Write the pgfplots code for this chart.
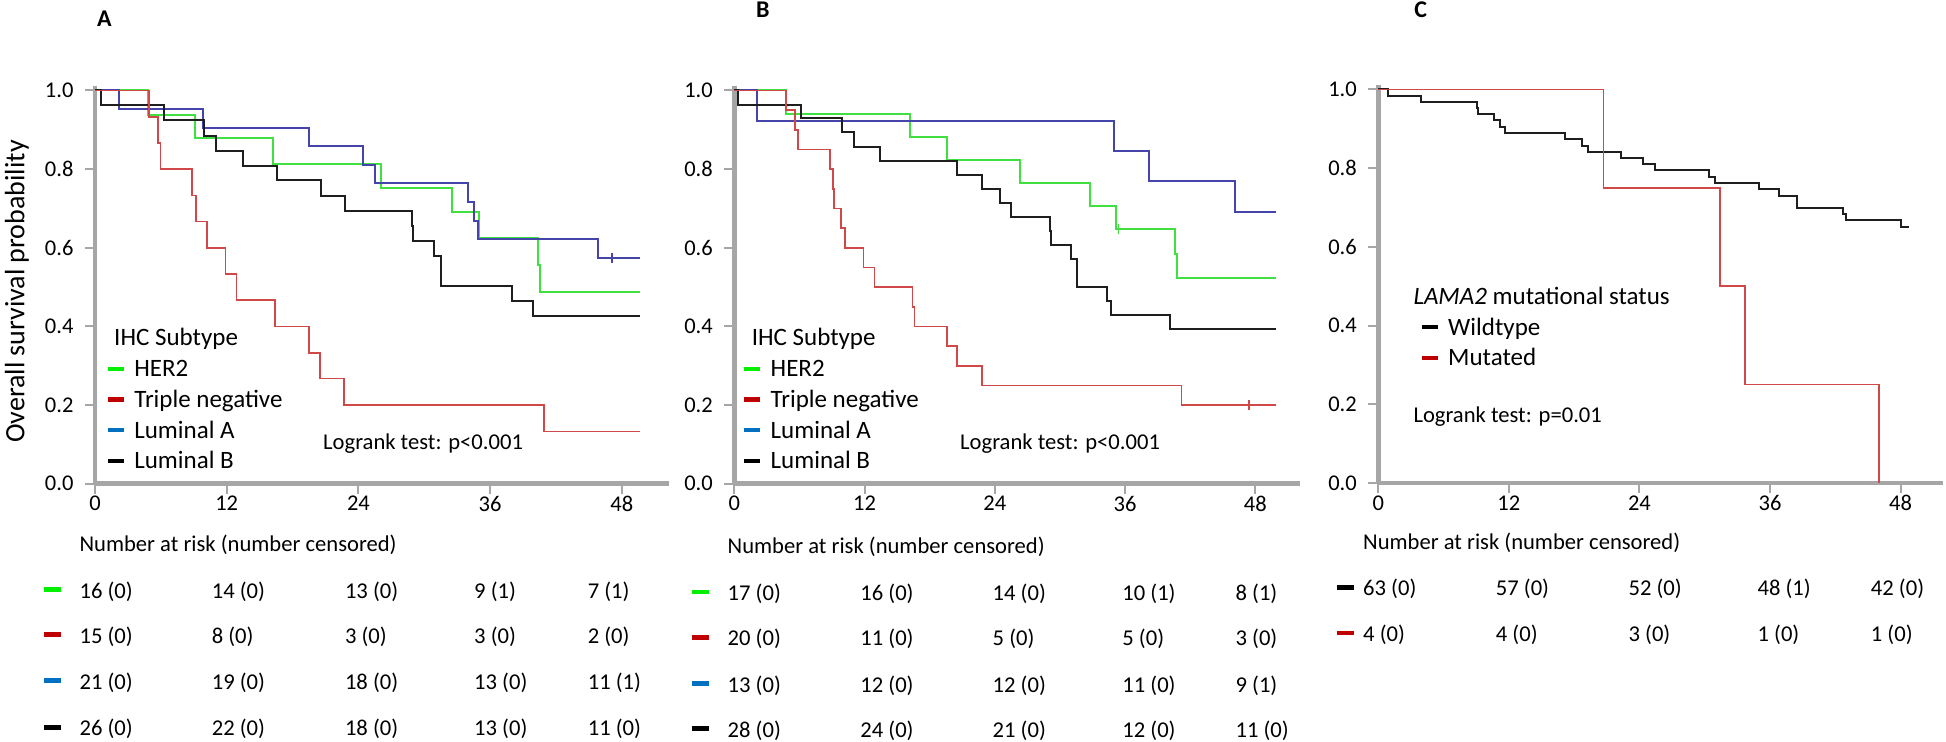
\documentclass[border=0pt]{standalone}
\usepackage{pgfplots}
\pgfplotsset{compat=1.18}
\usepackage{fontspec}
\setmainfont{Carlito}

\definecolor{axisgrey}{HTML}{A6A6A6}
\definecolor{kmgreen}{HTML}{3FE03F}
\definecolor{kmred}{HTML}{D04848}
\definecolor{kmblue}{HTML}{4444AA}
\definecolor{kmblack}{HTML}{1E1E1E}
\definecolor{lggreen}{HTML}{00F000}
\definecolor{lgred}{HTML}{C00000}
\definecolor{lgblue}{HTML}{0070C0}

\newcommand\txt{\fontsize{22.6bp}{26bp}\selectfont}
\newcommand\lgd{\fontsize{25bp}{29bp}\selectfont}
\newcommand\tck{\fontsize{22.5bp}{26bp}\selectfont}
\newcommand\ylab{\fontsize{28bp}{32bp}\selectfont}

% one row of a number-at-risk table; columns in \cA..\cE, dash at \dx
\newcommand\riskrow[7]{%
  \node[anchor=west,inner sep=0pt] at (\dx,#1+2) {\textcolor{#2}{\rule{17bp}{4.5bp}}};
  \node[anchor=west,inner sep=0pt,font=\txt] at (\cA,#1) {#3};
  \node[anchor=west,inner sep=0pt,font=\txt] at (\cB,#1) {#4};
  \node[anchor=west,inner sep=0pt,font=\txt] at (\cC,#1) {#5};
  \node[anchor=west,inner sep=0pt,font=\txt] at (\cD,#1) {#6};
  \node[anchor=west,inner sep=0pt,font=\txt] at (\cE,#1) {#7};}

\pgfplotsset{
  kmaxis/.style={
    scale only axis, height=397.2bp, anchor=south west,
    xmin=0, ymin=0, ymax=1.01,
    axis lines=left,
    axis line style={draw=axisgrey, line width=4.5bp, -},
    xtick={0,12,24,36,48}, ytick={0,0.2,0.4,0.6,0.8,1.0},
    yticklabel style={xshift=-8bp, /pgf/number format/.cd, fixed, fixed zerofill, precision=1},
    xticklabel style={yshift=1bp},
    tick style={draw=axisgrey, line width=2bp},
    major tick length=10bp, tick align=outside,
    ticklabel style={font=\tck},
    /pgf/number format/assume math mode=true,
    clip=false,
    legend cell align=left,
    legend image code/.code={\draw[line width=4.5bp,##1] (0bp,0bp) -- (16bp,0bp);},
    legend style={draw=none, fill=none, inner sep=0pt, font=\lgd,
      row sep=7.9bp, cells={anchor=west},
      /tikz/every odd column/.append style={column sep=6bp}},
  },
  km/.style={const plot, line width=2bp, forget plot},
  cens/.style={only marks, mark=|, mark size=5bp, line width=1.5bp, forget plot},
}

\begin{document}
\begin{tikzpicture}[x=1bp,y=1bp]
\path[use as bounding box] (0,0) rectangle (1946,742);

\node[font=\fontsize{24bp}{28bp}\selectfont\bfseries] at (104.5,723) {A};
\node[font=\fontsize{24bp}{28bp}\selectfont\bfseries] at (762.8,732) {B};
\node[font=\fontsize{24bp}{28bp}\selectfont\bfseries] at (1420.7,732) {C};
\node[font=\ylab, rotate=90] at (17,450.5) {Overall survival probability};

% ---------------- A
\begin{axis}[kmaxis, at={(95bp,258.3bp)}, width=574bp, xmax=52.3,
  legend style={at={(0.0186,0.316)}, anchor=north west}]
\addplot[km, kmgreen] coordinates {(0,1) (4.87,0.937) (9.1,0.878) (16.2,0.813) (26.1,0.751) (32.5,0.690) (35.0,0.626) (40.4,0.556) (40.5,0.488) (49.7,0.488)};
\addplot[km, kmblue] coordinates {(0,1) (2.19,0.953) (9.86,0.905) (19.5,0.858) (24.4,0.811) (25.5,0.764) (34.0,0.715) (34.5,0.669) (34.9,0.622) (45.8,0.575) (49.7,0.575)};
\addplot[cens, kmblue] coordinates {(47.1,0.575)};
\addplot[km, kmblack] coordinates {(0,1) (0.53,0.962) (6.27,0.924) (9.97,0.885) (10.99,0.847) (13.5,0.809) (16.6,0.771) (20.6,0.732) (22.8,0.694) (28.9,0.655) (29.0,0.618) (30.9,0.580) (31.5,0.503) (38.0,0.464) (39.9,0.427) (49.7,0.427)};
\addplot[km, kmred, line width=1.6bp] coordinates {(0,1) (4.94,0.933) (5.74,0.867) (5.97,0.8) (8.83,0.733) (9.18,0.667) (10.2,0.6) (11.9,0.533) (12.9,0.467) (16.4,0.4) (19.5,0.333) (20.5,0.267) (22.7,0.2) (40.9,0.133) (49.7,0.133)};
\addlegendimage{lggreen}\addlegendentry{HER2}
\addlegendimage{lgred}\addlegendentry{Triple negative}
\addlegendimage{lgblue}\addlegendentry{Luminal A}
\addlegendimage{black}\addlegendentry{Luminal B}
\end{axis}
\node[anchor=west, font=\lgd, inner sep=0pt] at (114,403) {IHC Subtype};
\node[anchor=west, font=\txt, inner sep=0pt] at (323,298.5) {Logrank test: p<0.001};

% ---------------- B
\begin{axis}[kmaxis, at={(734.3bp,258.3bp)}, width=565.5bp, xmax=52.1,
  legend style={at={(0.0136,0.316)}, anchor=north west}]
\addplot[km, kmgreen] coordinates {(0,1) (4.74,0.941) (16.2,0.882) (19.6,0.824) (26.3,0.765) (32.8,0.706) (35.2,0.647) (40.6,0.583) (40.8,0.522) (49.9,0.522)};
\addplot[cens, kmgreen] coordinates {(35.4,0.647)};
\addplot[km, kmblue] coordinates {(0,1) (2.07,0.923) (35.0,0.846) (38.2,0.769) (46.1,0.692) (49.9,0.692)};
\addplot[km, kmblack] coordinates {(0,1) (0.35,0.964) (6.16,0.929) (9.9,0.893) (11.04,0.857) (13.4,0.821) (20.5,0.786) (22.8,0.75) (24.5,0.714) (25.5,0.679) (29.1,0.643) (29.2,0.607) (31.0,0.571) (31.6,0.5) (34.3,0.464) (34.7,0.429) (40.1,0.393) (49.9,0.393)};
\addplot[km, kmred, line width=1.6bp] coordinates {(0,1) (4.74,0.95) (5.58,0.9) (5.85,0.85) (8.79,0.8) (9.1,0.75) (9.17,0.7) (9.82,0.65) (10.2,0.6) (11.9,0.55) (12.9,0.5) (16.4,0.45) (16.6,0.4) (19.6,0.35) (20.5,0.3) (22.8,0.25) (41.2,0.2) (49.9,0.2)};
\addplot[cens, kmred] coordinates {(47.4,0.2)};
\addlegendimage{lggreen}\addlegendentry{HER2}
\addlegendimage{lgred}\addlegendentry{Triple negative}
\addlegendimage{lgblue}\addlegendentry{Luminal A}
\addlegendimage{black}\addlegendentry{Luminal B}
\end{axis}
\node[anchor=west, font=\lgd, inner sep=0pt] at (751.6,403) {IHC Subtype};
\node[anchor=west, font=\txt, inner sep=0pt] at (960,298) {Logrank test: p<0.001};

% ---------------- C
\begin{axis}[kmaxis, at={(1378.3bp,259bp)}, width=564.7bp, height=397.6bp, xmax=51.9,
  legend style={at={(0.073,0.421)}, anchor=north west}]
\addplot[km, kmblack] coordinates {(0,1) (0.87,0.984) (3.9,0.968) (9.09,0.952) (9.16,0.937) (10.6,0.921) (11.2,0.905) (11.66,0.889) (17.15,0.873) (18.74,0.857) (19.3,0.841) (22.34,0.825) (24.3,0.810) (25.4,0.794) (30.4,0.778) (30.9,0.762) (35.0,0.746) (36.8,0.730) (38.5,0.698) (42.7,0.683) (43.0,0.667) (48.0,0.651) (48.8,0.651)};
\addplot[km, kmred, line width=1.6bp] coordinates {(0,1) (20.7,0.75) (31.4,0.5) (33.7,0.25) (46.0,0)};
\addlegendimage{black}\addlegendentry{Wildtype}
\addlegendimage{lgred}\addlegendentry{Mutated}
\end{axis}
\node[anchor=west, font=\lgd, inner sep=0pt] at (1413.3,446) {\textit{LAMA2} mutational status};
\node[anchor=west, font=\txt, inner sep=0pt] at (1413.3,325.3) {Logrank test: p=0.01};

% ---------------- number at risk tables
\node[anchor=west, font=\txt, inner sep=0pt] at (79.4,197) {Number at risk (number censored)};
\def\dx{43.4}\def\cA{79.4}\def\cB{211.6}\def\cC{344.8}\def\cD{474}\def\cE{587.6}
\riskrow{150.3}{lggreen}{16 (0)}{14 (0)}{13 (0)}{9 (1)}{7 (1)}
\riskrow{105.3}{lgred}{15 (0)}{8 (0)}{3 (0)}{3 (0)}{2 (0)}
\riskrow{59.3}{lgblue}{21 (0)}{19 (0)}{18 (0)}{13 (0)}{11 (1)}
\riskrow{12.7}{black}{26 (0)}{22 (0)}{18 (0)}{13 (0)}{11 (0)}

\node[anchor=west, font=\txt, inner sep=0pt] at (727.5,194.7) {Number at risk (number censored)};
\def\dx{691.5}\def\cA{727.5}\def\cB{860.2}\def\cC{992.5}\def\cD{1122.2}\def\cE{1235.4}
\riskrow{148}{lggreen}{17 (0)}{16 (0)}{14 (0)}{10 (1)}{8 (1)}
\riskrow{102.7}{lgred}{20 (0)}{11 (0)}{5 (0)}{5 (0)}{3 (0)}
\riskrow{56.3}{lgblue}{13 (0)}{12 (0)}{12 (0)}{11 (0)}{9 (1)}
\riskrow{11.3}{black}{28 (0)}{24 (0)}{21 (0)}{12 (0)}{11 (0)}

\node[anchor=west, font=\txt, inner sep=0pt] at (1363,198.7) {Number at risk (number censored)};
\def\dx{1336.3}\def\cA{1363}\def\cB{1495.7}\def\cC{1628.4}\def\cD{1757.4}\def\cE{1870.7}
\riskrow{152.7}{black}{63 (0)}{57 (0)}{52 (0)}{48 (1)}{42 (0)}
\riskrow{107}{lgred}{4 (0)}{4 (0)}{3 (0)}{1 (0)}{1 (0)}
\end{tikzpicture}
\end{document}
